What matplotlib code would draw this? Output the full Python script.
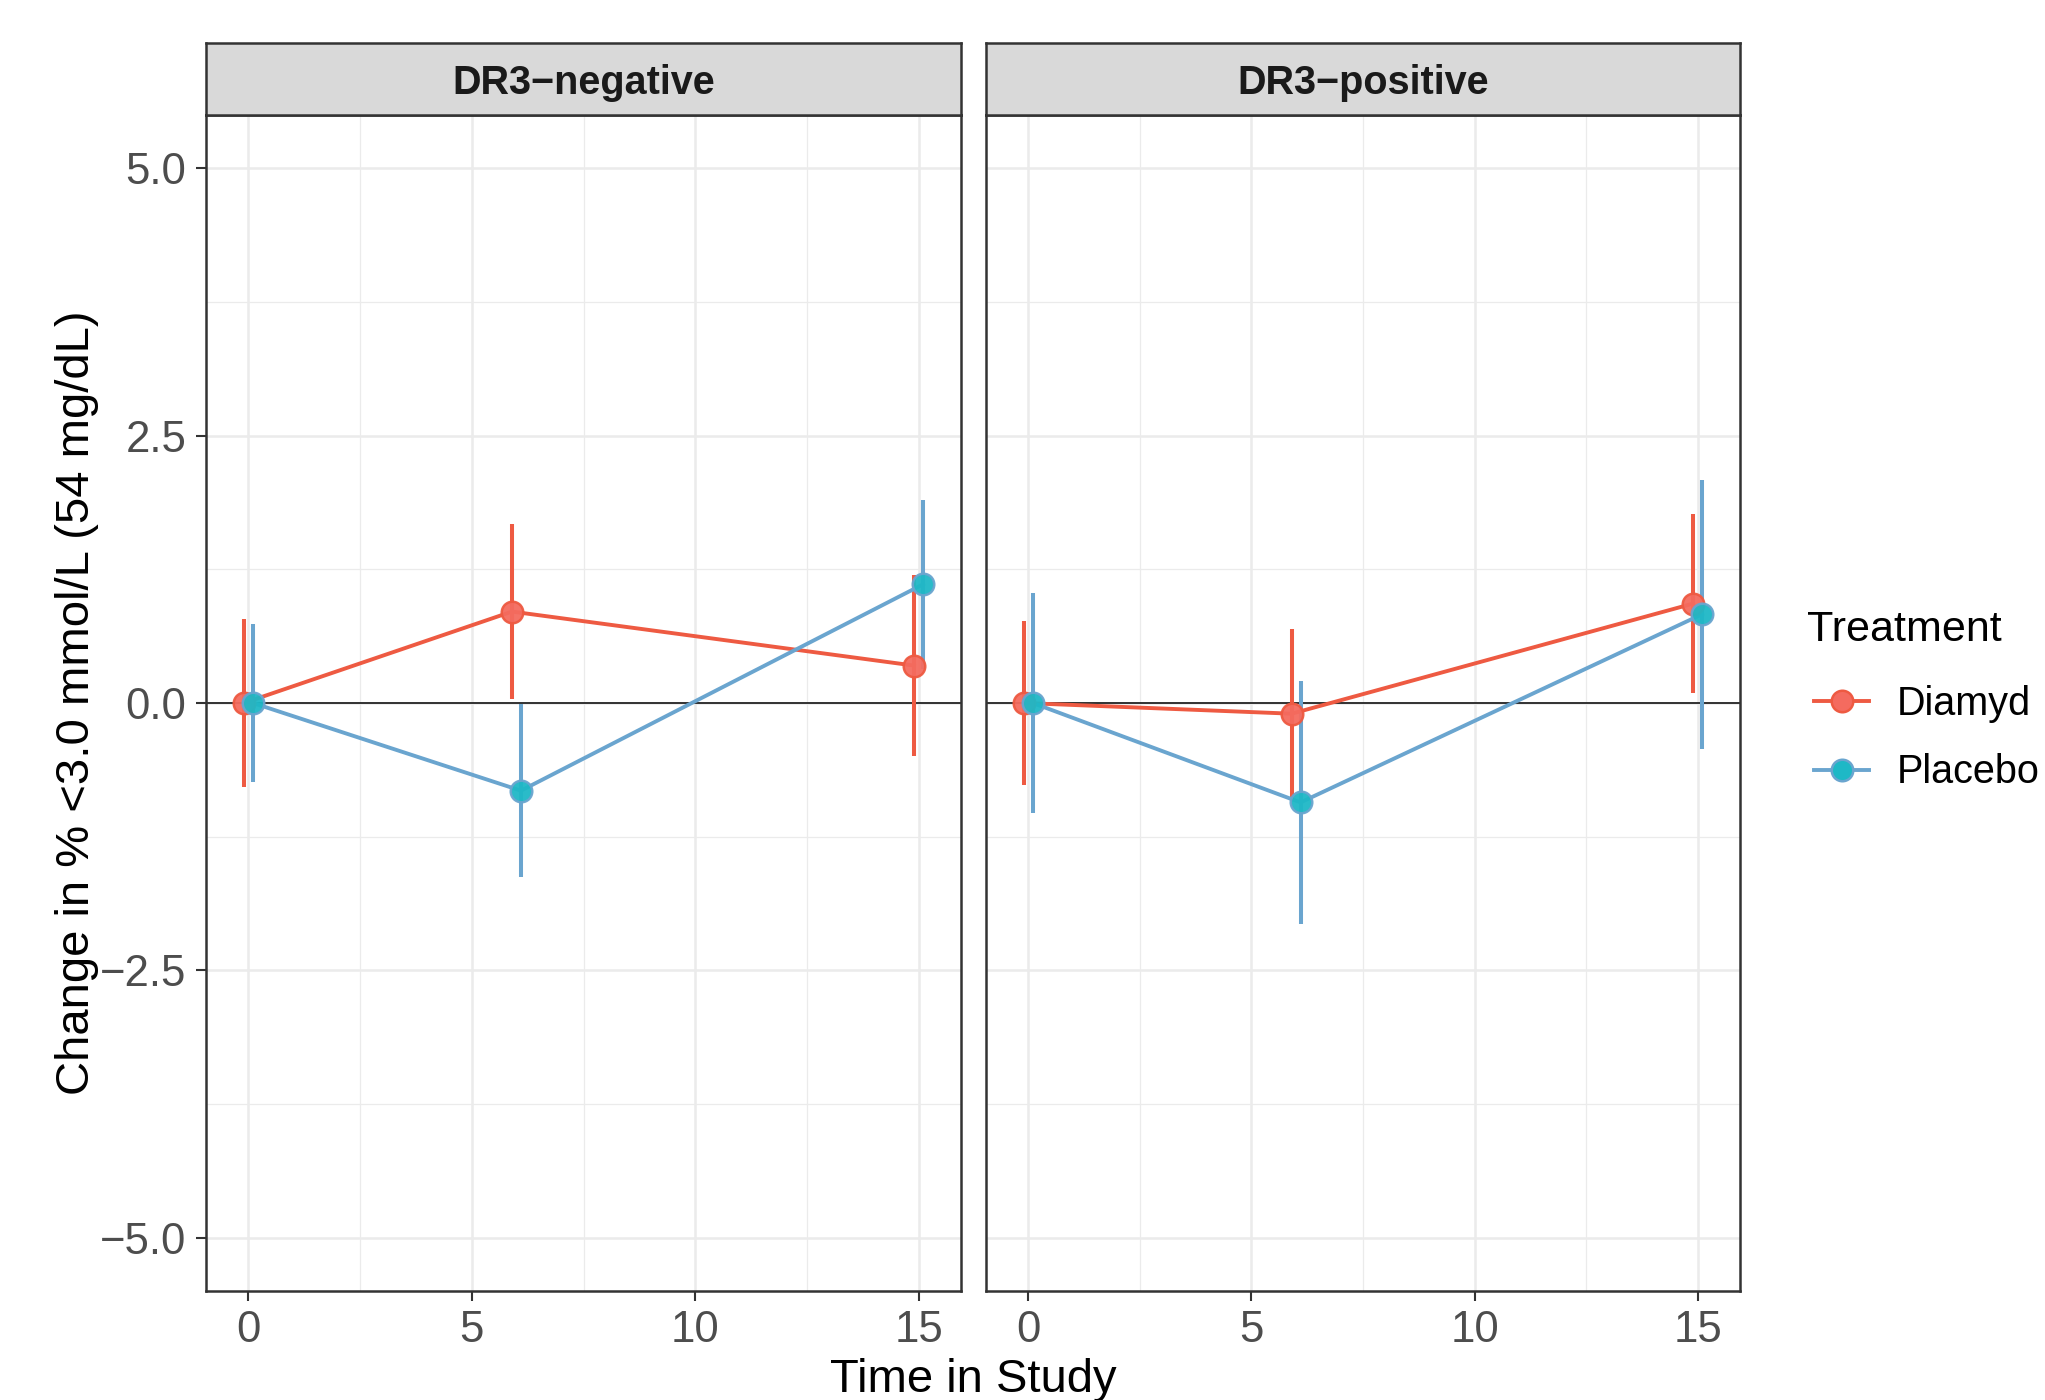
import numpy as np
import matplotlib
matplotlib.use("Agg")
import matplotlib.pyplot as plt
from matplotlib.lines import Line2D
from matplotlib.ticker import MultipleLocator

plt.rcParams['font.family'] = ['Liberation Sans', 'DejaVu Sans']

# data
panels = ["DR3\u2212negative", "DR3\u2212positive"]
times = [0, 6, 15]
treatments = ["Diamyd", "Placebo"]

# mean change and half width of the interval, per panel
diamyd_mean = [[0.0, 0.855, 0.35], [0.0, -0.10, 0.93]]
diamyd_err = [[0.79, 0.82, 0.845], [0.77, 0.79, 0.84]]
placebo_mean = [[0.0, -0.82, 1.11], [0.0, -0.93, 0.83]]
placebo_err = [[0.74, 0.81, 0.79], [1.03, 1.14, 1.26]]

line_col = {"Diamyd": "#EE5A42", "Placebo": "#6AA5CF"}
fill_col = {"Diamyd": "#F46B5F", "Placebo": "#1EB8C6"}
dodge = {"Diamyd": -0.1, "Placebo": 0.1}

fig = plt.figure(figsize=(20.45, 14), dpi=100)
W, H = 2045, 1400

def box(l, t, r, b):
    return [l / W, 1 - b / H, (r - l) / W, (b - t) / H]

axes_px = [(206, 115, 961, 1291), (986, 115, 1740, 1291)]

for i, (l, t, r, b) in enumerate(axes_px):
    ax = fig.add_axes(box(l, t, r, b))
    ax.set_xlim(-0.95, 15.95)
    ax.set_ylim(-5.5, 5.5)
    ax.xaxis.set_major_locator(MultipleLocator(5))
    ax.xaxis.set_minor_locator(MultipleLocator(2.5))
    ax.yaxis.set_major_locator(MultipleLocator(2.5))
    ax.yaxis.set_minor_locator(MultipleLocator(1.25))
    ax.grid(which='major', color='#EBEBEB', lw=1.8, zorder=0)
    ax.grid(which='minor', color='#EBEBEB', lw=0.9, zorder=0)
    ax.set_axisbelow(True)
    ax.axhline(0, color='black', lw=1.1, zorder=1)

    for tr, means, errs in [("Diamyd", diamyd_mean[i], diamyd_err[i]),
                            ("Placebo", placebo_mean[i], placebo_err[i])]:
        x = np.array(times) + dodge[tr]
        m = np.array(means)
        e = np.array(errs)
        ax.vlines(x, m - e, m + e, color=line_col[tr], lw=2.9, zorder=2)
        ax.plot(x, m, color=line_col[tr], lw=2.8, zorder=3)
        ax.plot(x, m, 'o', ms=15.5, mfc=fill_col[tr], mec=line_col[tr],
                mew=1.8, zorder=4, alpha=0.95)

    ax.set_xticks([0, 5, 10, 15])
    ax.set_xticklabels(["0", "5", "10", "15"])
    ax.tick_params(which='major', length=7, width=1.5, color='#333333',
                   labelsize=31.5, labelcolor='#4D4D4D', pad=7)
    ax.tick_params(which='minor', length=0)
    if i == 0:
        ax.set_yticks([-5, -2.5, 0, 2.5, 5])
        ax.set_yticklabels(["\u22125.0", "\u22122.5", "0.0", "2.5", "5.0"])
    else:
        ax.tick_params(axis='y', which='both', left=False, labelleft=False)
    for s in ax.spines.values():
        s.set_color('#333333')
        s.set_linewidth(1.8)

    # facet strip
    sax = fig.add_axes(box(l, 43, r, t))
    sax.set_facecolor('#D9D9D9')
    sax.set_xticks([])
    sax.set_yticks([])
    for s in sax.spines.values():
        s.set_color('#333333')
        s.set_linewidth(1.8)
    sax.text(0.5, 0.45, panels[i], ha='center', va='center', fontsize=28.5,
             fontweight='bold', color='#1A1A1A', transform=sax.transAxes)

fig.text(77 / W, 1 - 703 / H, "Change in % <3.0 mmol/L (54 mg/dL)",
         rotation=90, ha='center', va='center', fontsize=34)
fig.text(973 / W, 1 - 1358 / H, "Time in Study", ha='center', va='top',
         fontsize=34)

# legend
fig.text(1807 / W, 1 - 630 / H, "Treatment", ha='left', va='center',
         fontsize=31)
handles = [Line2D([], [], color=line_col[tr], lw=2.8, marker='o', ms=15.5,
                  mfc=fill_col[tr], mec=line_col[tr], mew=1.8)
           for tr in treatments]
leg = fig.legend(handles, treatments, loc='center left',
                 bbox_to_anchor=(1814 / W, 1 - 738 / H), frameon=False,
                 fontsize=28.5, handlelength=1.4, handletextpad=0.7,
                 labelspacing=0.78, borderpad=0, borderaxespad=0)

fig.savefig("out.png", dpi=100)
